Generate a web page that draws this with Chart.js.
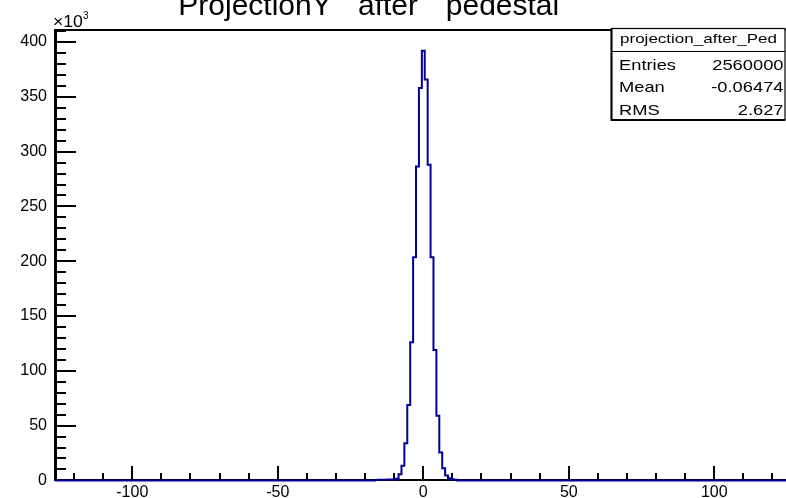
<!DOCTYPE html>
<html><head><meta charset="utf-8">
<script src="https://cdn.jsdelivr.net/npm/chart.js@4/dist/chart.umd.min.js"></script>
<style>html,body{margin:0;padding:0;background:#fff}#wrap{width:786px;height:498px;position:relative}</style>
</head><body><div id="wrap"><canvas id="c" width="786" height="498"></canvas></div>
<script>
// ---- data ----
const titleWords = ['ProjectionY', 'after', 'pedestal'];
const binCenters = [-16, -15, -14, -13, -12, -11, -10, -9, -8, -7, -6, -5, -4, -3, -2, -1, 0, 1, 2, 3, 4, 5, 6, 7, 8, 9, 10, 11];
const binCounts  = [400, 500, 600, 700, 800, 900, 700, 1500, 5700, 13300, 34000, 68700, 126000, 203700, 286500, 358000, 392000, 365800, 288000, 203700, 119000, 59000, 25400, 11000, 4500, 2000, 1000, 500];
const emptyEdges = [-128, -17, 12, 128];   // empty bins outside the filled range
const xTickValues = [-100, -50, 0, 50, 100];
const yTickValues = [0, 50000, 100000, 150000, 200000, 250000, 300000, 350000, 400000];
const xRange = [-126.56, 124.64];
const yRange = [0, 411000];
const yExponentText = '\u00d710';
const yExponent = '3';
const statsName = 'projection_after_Ped';
const statsLabels = ['Entries', 'Mean', 'RMS'];
const statsValues = ['2560000', '-0.06474', '2.627'];

// ---- build points ----
const points = [];
points.push({x: emptyEdges[0], y: 0}, {x: emptyEdges[1], y: 0});
binCenters.forEach((c, i) => points.push({x: c, y: binCounts[i]}));
points.push({x: emptyEdges[2], y: 0}, {x: emptyEdges[3], y: 0});

const FONT = "'Liberation Sans', Arial, Helvetica, sans-serif";

function stretchText(ctx, text, x, y, align, sx) {
  ctx.save();
  ctx.translate(x, y);
  ctx.scale(sx, 1);
  ctx.textAlign = align;
  ctx.fillText(text, 0, 0);
  ctx.restore();
}

const rootFrame = {
  id: 'rootFrame',
  beforeDatasetsDraw(chart) {
    const ctx = chart.ctx, a = chart.chartArea;
    const xs = chart.scales.x, ys = chart.scales.y;
    ctx.save();
    ctx.strokeStyle = '#000';
    ctx.lineWidth = 2;
    ctx.beginPath(); ctx.moveTo(a.left, 30); ctx.lineTo(a.right, 30); ctx.stroke();
    ctx.beginPath(); ctx.moveTo(a.left, 480); ctx.lineTo(a.right, 480); ctx.stroke();
    ctx.lineWidth = 3;
    ctx.beginPath(); ctx.moveTo(55.5, a.top - 1); ctx.lineTo(55.5, 481); ctx.stroke();
    ctx.lineWidth = 2;
    for (let v = -120; v <= 120; v += 10) {
      const px = Math.round(xs.getPixelForValue(v));
      if (px < a.left + 2 || px > a.right) continue;
      const len = (v % 50 === 0) ? 14 : 7;
      ctx.beginPath(); ctx.moveTo(px, 480); ctx.lineTo(px, 480 - len); ctx.stroke();
    }
    for (let v = 10000; v <= yRange[1]; v += 10000) {
      const py = Math.round(ys.getPixelForValue(v));
      const len = (v % 50000 === 0) ? 20 : 10;
      ctx.beginPath(); ctx.moveTo(56, py); ctx.lineTo(56 + len, py); ctx.stroke();
    }
    ctx.restore();
  },
  afterDraw(chart) {
    const ctx = chart.ctx;
    ctx.save();
    ctx.fillStyle = '#000';
    ctx.textBaseline = 'alphabetic';
    ctx.font = '30px ' + FONT;
    ctx.textAlign = 'center';
    const centers = [255, 388, 502.5];
    titleWords.forEach((w, i) => ctx.fillText(w, centers[i], 15));
    ctx.textAlign = 'left';
    ctx.font = '16px ' + FONT;
    stretchText(ctx, yExponentText, 53, 26.5, 'left', 1.1);
    ctx.font = '10px ' + FONT;
    ctx.fillText(yExponent, 83, 19);
    const bx = 611.5, by = 28.5, bw = 173.5, bh = 91.5;
    ctx.fillStyle = '#fff';
    ctx.fillRect(bx, by, bw, bh);
    ctx.strokeStyle = '#000';
    ctx.lineWidth = 1.2;
    ctx.strokeRect(bx, by, bw, bh);
    ctx.lineWidth = 2;
    ctx.beginPath(); ctx.moveTo(bx, by); ctx.lineTo(bx, by + bh); ctx.lineTo(bx + bw, by + bh); ctx.stroke();
    ctx.lineWidth = 1.2;
    ctx.beginPath(); ctx.moveTo(bx, 51.5); ctx.lineTo(bx + bw, 51.5); ctx.stroke();
    ctx.fillStyle = '#000';
    ctx.font = '13.5px ' + FONT;
    stretchText(ctx, statsName, 698.5, 43, 'center', 1.26);
    ctx.font = '15px ' + FONT;
    const rows = [69.5, 92, 114.5];
    statsLabels.forEach((l, i) => {
      stretchText(ctx, l, 619, rows[i], 'left', 1.22);
      stretchText(ctx, statsValues[i], 783.5, rows[i], 'right', 1.22);
    });
    ctx.restore();
  }
};

new Chart(document.getElementById('c'), {
  type: 'line',
  data: {
    datasets: [{
      data: points,
      stepped: 'middle',
      borderColor: '#000099',
      borderWidth: 2,
      pointRadius: 0,
      fill: false,
      clip: {left: 0, top: 0, right: 0, bottom: 2}
    }]
  },
  options: {
    responsive: false,
    animation: false,
    devicePixelRatio: 1,
    layout: {padding: {top: 30, left: 0, right: 0, bottom: 0}},
    plugins: {legend: {display: false}, tooltip: {enabled: false}, title: {display: false}},
    scales: {
      x: {
        type: 'linear',
        min: xRange[0], max: xRange[1],
        grid: {display: false, drawTicks: false},
        border: {display: false},
        afterFit: s => { s.height = 17; },
        afterBuildTicks: s => { s.ticks = xTickValues.map(v => ({value: v})); },
        ticks: {
          padding: 3,
          maxRotation: 0,
          autoSkip: false,
          color: '#000',
          font: {family: FONT, size: 16},
          callback: v => String(v)
        }
      },
      y: {
        min: yRange[0], max: yRange[1],
        grid: {display: false, drawTicks: false},
        border: {display: false},
        afterFit: s => { s.width = 55; },
        afterBuildTicks: s => { s.ticks = yTickValues.map(v => ({value: v})); },
        ticks: {
          padding: 8,
          autoSkip: false,
          color: '#000',
          font: {family: FONT, size: 16},
          callback: v => String(v / 1000)
        }
      }
    }
  },
  plugins: [rootFrame]
});
</script>
</body></html>
